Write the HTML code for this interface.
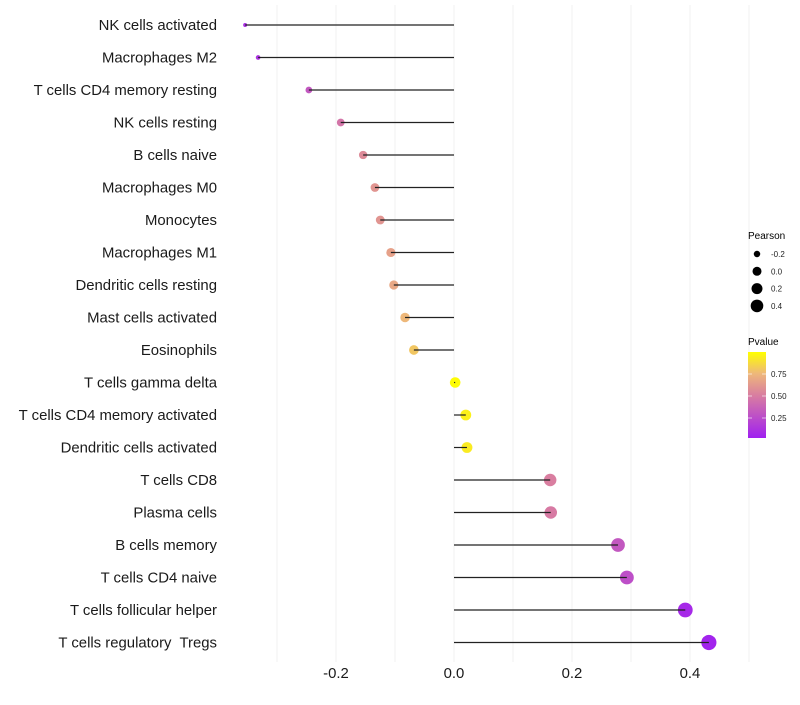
<!DOCTYPE html>
<html><head><meta charset="utf-8"><style>
body{margin:0;background:#fff;font-family:"Liberation Sans",sans-serif;}
text{white-space:pre;}
</style></head><body>
<svg id="chart" width="800" height="700" xmlns="http://www.w3.org/2000/svg"></svg>
<script>
const categories=["NK cells activated","Macrophages M2","T cells CD4 memory resting","NK cells resting","B cells naive","Macrophages M0","Monocytes","Macrophages M1","Dendritic cells resting","Mast cells activated","Eosinophils","T cells gamma delta","T cells CD4 memory activated","Dendritic cells activated","T cells CD8","Plasma cells","B cells memory","T cells CD4 naive","T cells follicular helper","T cells regulatory  Tregs"];
const pearson=[-0.354,-0.332,-0.246,-0.192,-0.154,-0.134,-0.125,-0.107,-0.102,-0.083,-0.068,0.002,0.020,0.022,0.163,0.164,0.278,0.293,0.392,0.432];
const pvalues=[0.08,0.1,0.3,0.45,0.55,0.6,0.6,0.65,0.68,0.75,0.8,0.99,0.95,0.93,0.5,0.48,0.3,0.25,0.05,0.02];
const xTicks=[-0.2,0,0.2,0.4];
const sizeLegend=[-0.2,0,0.2,0.4];
const colorTicks=[0.25,0.5,0.75];

const NS="http://www.w3.org/2000/svg";
const svg=document.getElementById('chart');
const X=v=>454+v*590;
const Y=i=>25+i*32.5;
const R=v=>Math.sqrt(Math.max(2.25,28+68*v));
const stops=[[0,[160,32,240]],[0.5,[217,126,160]],[0.75,[238,184,122]],[1,[255,255,0]]];
function col(p){for(let k=1;k<stops.length;k++){if(p<=stops[k][0]){const a=stops[k-1],b=stops[k];const t=(p-a[0])/(b[0]-a[0]);const c=a[1].map((x,j)=>Math.round(x+(b[1][j]-x)*t));return `rgb(${c})`;}}return 'rgb(255,255,0)';}
function el(t,at,txt){const e=document.createElementNS(NS,t);for(const k in at)e.setAttribute(k,at[k]);if(txt!==undefined)e.textContent=txt;svg.appendChild(e);return e;}

for(let g=-0.3;g<=0.55;g+=0.1){const gx=X(g);const l=el('line',{x1:gx,x2:gx,y1:5,y2:662,stroke:'#f2f2f2','stroke-width':1});

}

categories.forEach((c,i)=>{
 const t=el('text',{x:217,y:Y(i)+5,'text-anchor':'end','font-size':14.9,fill:'#1a1a1a'},c);
 
 
 const p=el('circle',{cx:X(pearson[i]),cy:Y(i),r:R(pearson[i]),fill:col(pvalues[i])});
 
 
 const s=el('line',{x1:X(0),x2:X(pearson[i]),y1:Y(i),y2:Y(i),stroke:'#222','stroke-width':1.2});
 
 
});
xTicks.forEach(v=>{const t=el('text',{x:X(v),y:678,'text-anchor':'middle','font-size':14.9,fill:'#1a1a1a'},v===0?'0.0':v.toFixed(1));

});

const lt=el('text',{x:748,y:239,'font-size':10,fill:'#000'},'Pearson');


sizeLegend.forEach((v,k)=>{const cy=254+k*17.3;
 const c=el('circle',{cx:757,cy:cy,r:R(v)*0.85,fill:'#000'});
 
 
 const t=el('text',{x:771,y:cy+3,'font-size':8,fill:'#222'},v.toFixed(1));
 
 });
const ct=el('text',{x:748,y:345,'font-size':10,fill:'#000'},'Pvalue');


const defs=el('defs',{});
const lg=document.createElementNS(NS,'linearGradient');lg.setAttribute('id','pg');lg.setAttribute('x1',0);lg.setAttribute('x2',0);lg.setAttribute('y1',1);lg.setAttribute('y2',0);defs.appendChild(lg);
stops.forEach(s=>{const st=document.createElementNS(NS,'stop');st.setAttribute('offset',s[0]);st.setAttribute('stop-color',`rgb(${s[1]})`);lg.appendChild(st);});
const bar=el('rect',{x:748,y:352,width:18,height:86,fill:'url(#pg)'});


colorTicks.forEach(v=>{const cy=352+(1-v)*88;
 const t=el('text',{x:771,y:cy+3,'font-size':8,fill:'#222'},v.toFixed(2));
 
 
 el('line',{x1:748,x2:752,y1:cy,y2:cy,stroke:'#fff','stroke-opacity':0.6});
 el('line',{x1:762,x2:766,y1:cy,y2:cy,stroke:'#fff','stroke-opacity':0.6});});
</script>
</body></html>
